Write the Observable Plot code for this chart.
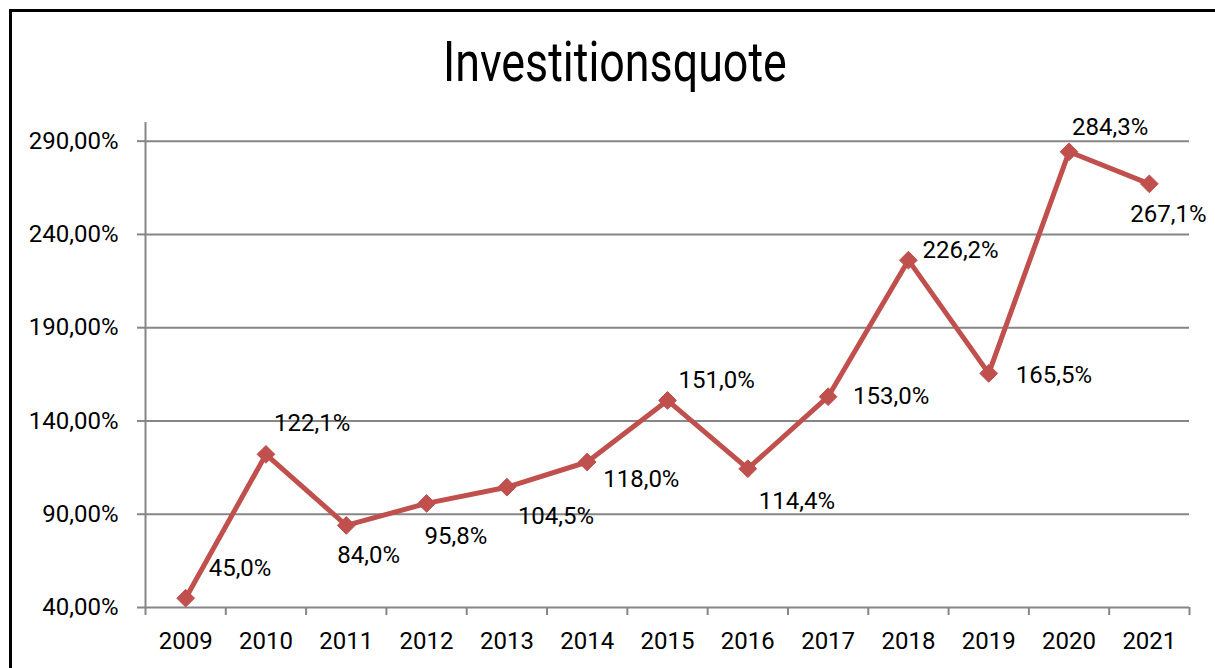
<!DOCTYPE html>
<html>
<head>
<meta charset="utf-8">
<script src="https://cdn.jsdelivr.net/npm/d3@7"></script>
<script src="https://cdn.jsdelivr.net/npm/@observablehq/plot@0.6"></script>
<style>
  html, body { margin: 0; padding: 0; background: #fff; }
  #wrap { position: relative; width: 1215px; height: 668px; overflow: hidden; font-family: Roboto, "Liberation Sans", sans-serif; }
  #frame { position: absolute; left: 9px; top: 9px; width: 1400px; height: 900px; border-left: 3px solid #000; border-top: 3px solid #000; pointer-events: none; }
  #title { height: 112px; box-sizing: border-box; padding-top: 34px; padding-left: 14px; text-align: center; }
  #title span { display: inline-block; font-size: 56px; line-height: 56px; color: #000; transform: scaleX(0.8); transform-origin: center; white-space: nowrap; }
  #chart svg { display: block; }
</style>
</head>
<body>
<div id="wrap">
  <div id="title"><span>Investitionsquote</span></div>
  <div id="chart"></div>
  <div id="frame"></div>
</div>
<script>
const titleText = "Investitionsquote";
const years = ["2009","2010","2011","2012","2013","2014","2015","2016","2017","2018","2019","2020","2021"];
const values = [45.0, 122.1, 84.0, 95.8, 104.5, 118.0, 151.0, 114.4, 153.0, 226.2, 165.5, 284.3, 267.1];
const yTicks = [40, 90, 140, 190, 240, 290];

// label placement (offset of label start from its point, in px) – layout only
const labelNudge = [[23,-30],[8,-31],[-9,30],[-2,33],[11,29],[16,17],[11,-20],[11,33],[25,0],[14,-10],[27,2],[3,-24],[-19,30]];

const red = "#C0504D";
const gray = "#868686";
const data = years.map((y, i) => ({i, year: y, value: values[i]}));
const fmtTick = v => v.toFixed(2).replace(".", ",") + "%";
const fmtLabel = v => v.toFixed(1).replace(".", ",") + "%";
const bounds = d3.range(years.length + 1).map(k => k - 0.5);

const labelMarks = data.map((d, k) => Plot.text([d], {
  x: "i", y: "value", text: dd => fmtLabel(dd.value),
  textAnchor: "start", lineAnchor: "middle",
  dx: labelNudge[k][0], dy: labelNudge[k][1],
  fill: "#000", fontSize: 24
}));

const chart = Plot.plot({
  width: 1215,
  height: 556,
  marginTop: 10,
  marginBottom: 61,
  marginLeft: 145,
  marginRight: 26,
  style: {fontFamily: "Roboto, 'Liberation Sans', sans-serif", fontSize: "24px", color: "#000", background: "transparent", overflow: "visible"},
  x: {domain: [-0.5, years.length - 0.5], axis: null, label: null},
  y: {domain: [40, 300], axis: null, label: null},
  marks: [
    Plot.ruleY(yTicks, {stroke: gray, strokeWidth: 2}),
    Plot.ruleX([-0.5], {stroke: gray, strokeWidth: 2}),
    Plot.axisY({ticks: yTicks, label: null, tickSize: 8, tickPadding: 19, tickFormat: fmtTick, stroke: gray, strokeWidth: 2, fill: "#000", fontSize: 24, strokeOpacity: 1}),
    Plot.axisX({ticks: bounds, label: null, tickSize: 8, tickFormat: () => "", stroke: gray, strokeWidth: 2, strokeOpacity: 1}),
    Plot.axisX({ticks: d3.range(years.length), label: null, tickSize: 0, tickPadding: 24, tickFormat: i => years[i], fill: "#000", fontSize: 24}),
    Plot.line(data, {x: "i", y: "value", stroke: red, strokeWidth: 5, strokeLinejoin: "miter"}),
    Plot.dot(data, {x: "i", y: "value", symbol: "diamond2", r: 8, fill: red, stroke: red, strokeWidth: 1}),
    ...labelMarks
  ]
});
document.getElementById("chart").appendChild(chart);
</script>
</body>
</html>
